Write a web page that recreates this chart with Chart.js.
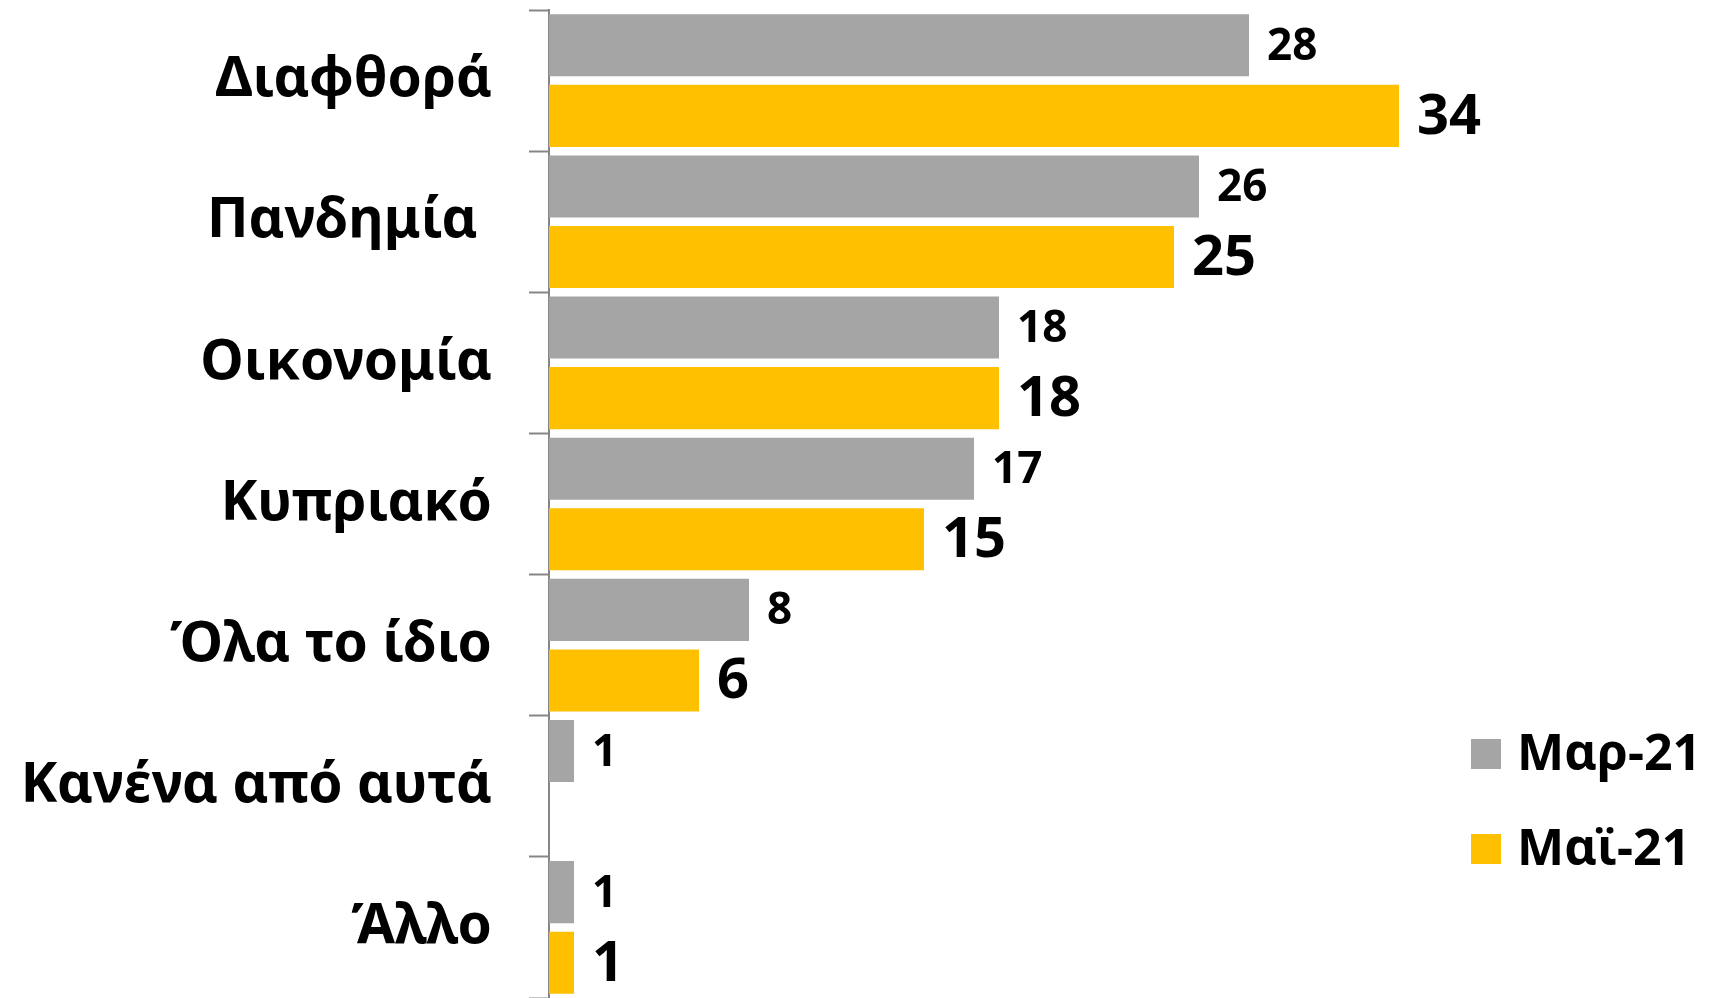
<!DOCTYPE html>
<html lang="el">
  <head>
    <meta charset="UTF-8" />
    <title>Διαφθορά / Πανδημία bar chart</title>
    <script src="https://cdn.jsdelivr.net/npm/chart.js@4"></script>
    <style>
      html,
      body {
        margin: 0;
        padding: 0;
        background-color: #ffffff;
      }
      #wrap {
        width: 1717px;
        height: 998px;
      }
    </style>
  </head>
  <body>
    <div id="wrap"><canvas id="issuesChart"></canvas></div>
    <script>
      // Data
      const categories = [
        "Διαφθορά",
        "Πανδημία ",
        "Οικονομία",
        "Κυπριακό",
        "Όλα το ίδιο",
        "Κανένα από αυτά",
        "Άλλο",
      ];
      const seriesNames = ["Μαρ-21", "Μαϊ-21"];
      const mar21 = [28, 26, 18, 17, 8, 1, 1];
      const mai21 = [34, 25, 18, 15, 6, null, 1];

      const FONT = "'Noto Sans', 'Open Sans', sans-serif";

      // value labels at the end of each bar (gray smaller, yellow bigger)
      const valueLabels = {
        id: "valueLabels",
        afterDatasetsDraw(chart) {
          const ctx = chart.ctx;
          const sizes = [44, 56];
          ctx.save();
          ctx.fillStyle = "#000000";
          ctx.textAlign = "left";
          ctx.textBaseline = "middle";
          chart.data.datasets.forEach((ds, i) => {
            const meta = chart.getDatasetMeta(i);
            ctx.font = "bold " + sizes[i] + "px " + FONT;
            meta.data.forEach((bar, j) => {
              const v = ds.data[j];
              if (v === null || v === undefined) return;
              ctx.fillText(String(v), bar.x + 18, bar.y + 2);
            });
          });
          ctx.restore();
        },
      };

      // legend on the lower right, drawn from the datasets
      const sideLegend = {
        id: "sideLegend",
        afterDraw(chart) {
          const ctx = chart.ctx;
          const x0 = 1471;
          const rows = [754, 849];
          ctx.save();
          ctx.font = "bold 50px " + FONT;
          ctx.textBaseline = "middle";
          ctx.textAlign = "left";
          chart.data.datasets.forEach((ds, i) => {
            const cy = rows[i];
            ctx.fillStyle = ds.backgroundColor;
            ctx.fillRect(x0, cy - 15, 30, 30);
            ctx.fillStyle = "#000000";
            ctx.fillText(ds.label, x0 + 46, cy + 2);
          });
          ctx.restore();
        },
      };

      const ctx = document.getElementById("issuesChart").getContext("2d");

      new Chart(ctx, {
        type: "bar",
        data: {
          labels: categories,
          datasets: [
            {
              label: seriesNames[0],
              data: mar21,
              backgroundColor: "#A5A5A5",
              borderWidth: 0,
            },
            {
              label: seriesNames[1],
              data: mai21,
              backgroundColor: "#FFC000",
              borderWidth: 0,
            },
          ],
        },
        options: {
          indexAxis: "y",
          responsive: true,
          maintainAspectRatio: false,
          animation: false,
          layout: {
            padding: { top: 10, bottom: 0, left: 0, right: 168 },
          },
          datasets: {
            bar: {
              barPercentage: 0.88,
              categoryPercentage: 1.0,
            },
          },
          plugins: {
            legend: { display: false },
            tooltip: { enabled: false },
          },
          scales: {
            x: {
              display: false,
              min: 0,
              max: 40,
            },
            y: {
              afterFit: function (scale) {
                scale.width = 549;
                scale.paddingTop = 0;
                scale.paddingBottom = 0;
              },
              border: {
                display: true,
                color: "#868686",
                width: 2,
              },
              grid: {
                display: true,
                drawOnChartArea: false,
                drawTicks: true,
                tickLength: 20,
                tickWidth: 2,
                tickColor: "#868686",
                offset: true,
              },
              ticks: {
                color: "#000000",
                padding: 37,
                autoSkip: false,
                font: {
                  family: FONT,
                  size: 55,
                  weight: "bold",
                },
              },
            },
          },
        },
        plugins: [valueLabels, sideLegend],
      });
    </script>
  </body>
</html>
